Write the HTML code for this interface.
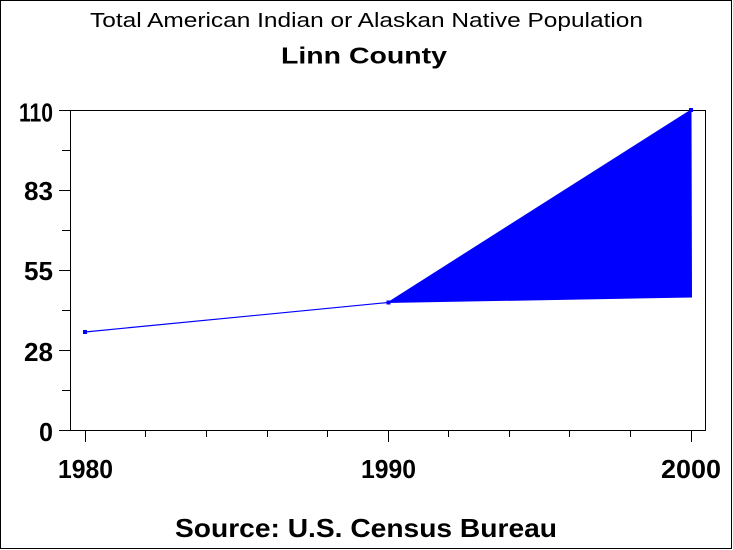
<!DOCTYPE html>
<html><head><meta charset="utf-8"><style>
html,body{margin:0;padding:0;background:#fff;}
svg{display:block;}
text{font-family:"Liberation Sans",Arial,sans-serif;fill:#000;}
</style></head><body>
<svg width="733" height="550" viewBox="0 0 733 550" xmlns="http://www.w3.org/2000/svg" shape-rendering="crispEdges">
<rect x="0.5" y="0.5" width="731" height="548" fill="#fff" stroke="#000" stroke-width="1"/>
<text x="90" y="27" font-size="20" textLength="553" lengthAdjust="spacingAndGlyphs">Total American Indian or Alaskan Native Population</text>
<text x="281" y="63.5" font-size="23" font-weight="bold" textLength="166" lengthAdjust="spacingAndGlyphs">Linn County</text>
<text x="175" y="537" font-size="26" textLength="382" lengthAdjust="spacingAndGlyphs" style="font-weight:bold">Source: U.S. Census Bureau</text>
<!-- frame -->
<rect x="70.5" y="110.5" width="635" height="320" fill="none" stroke="#000" stroke-width="1"/>
<!-- y ticks -->
<g stroke="#000" stroke-width="1">
<line x1="59" y1="110.5" x2="70" y2="110.5"/>
<line x1="59" y1="190.5" x2="70" y2="190.5"/>
<line x1="59" y1="270.5" x2="70" y2="270.5"/>
<line x1="59" y1="350.5" x2="70" y2="350.5"/>
<line x1="59" y1="430.5" x2="70" y2="430.5"/>
<line x1="62" y1="150.5" x2="70" y2="150.5"/>
<line x1="62" y1="230.5" x2="70" y2="230.5"/>
<line x1="62" y1="310.5" x2="70" y2="310.5"/>
<line x1="62" y1="390.5" x2="70" y2="390.5"/>
<!-- x ticks -->
<line x1="85.5" y1="430" x2="85.5" y2="442"/>
<line x1="388.5" y1="430" x2="388.5" y2="442"/>
<line x1="691.5" y1="430" x2="691.5" y2="442"/>
<line x1="145.5" y1="430" x2="145.5" y2="437"/>
<line x1="206.5" y1="430" x2="206.5" y2="437"/>
<line x1="267.5" y1="430" x2="267.5" y2="437"/>
<line x1="327.5" y1="430" x2="327.5" y2="437"/>
<line x1="448.5" y1="430" x2="448.5" y2="437"/>
<line x1="509.5" y1="430" x2="509.5" y2="437"/>
<line x1="569.5" y1="430" x2="569.5" y2="437"/>
<line x1="630.5" y1="430" x2="630.5" y2="437"/>
</g>
<!-- y labels -->
<g font-size="26" font-weight="bold" text-anchor="end">
<text x="53" y="121.5" textLength="34" lengthAdjust="spacingAndGlyphs">110</text>
<text x="53" y="200" textLength="29" lengthAdjust="spacingAndGlyphs">83</text>
<text x="53" y="280" textLength="29" lengthAdjust="spacingAndGlyphs">55</text>
<text x="53" y="361" textLength="29" lengthAdjust="spacingAndGlyphs">28</text>
<text x="53" y="441" textLength="14" lengthAdjust="spacingAndGlyphs">0</text>
</g>
<!-- x labels -->
<g font-size="26" font-weight="bold">
<text x="58" y="478" textLength="55" lengthAdjust="spacingAndGlyphs">1980</text>
<text x="361" y="478" textLength="55" lengthAdjust="spacingAndGlyphs">1990</text>
<text x="661" y="478" textLength="60" lengthAdjust="spacingAndGlyphs">2000</text>
</g>
<!-- series -->
<polygon points="388,302.5 691,110 691.5,297" fill="#0000ff" stroke="#0000ff" stroke-width="1" shape-rendering="auto"/>
<line x1="85" y1="332" x2="388" y2="302.5" stroke="#0000ff" stroke-width="1.2" shape-rendering="auto"/>
<rect x="83" y="330" width="4" height="4" fill="#0000ff"/>
<rect x="386.5" y="300.5" width="4" height="4" fill="#0000ff"/>
<rect x="689" y="108" width="4" height="4" fill="#0000ff"/>
</svg>
</body></html>
